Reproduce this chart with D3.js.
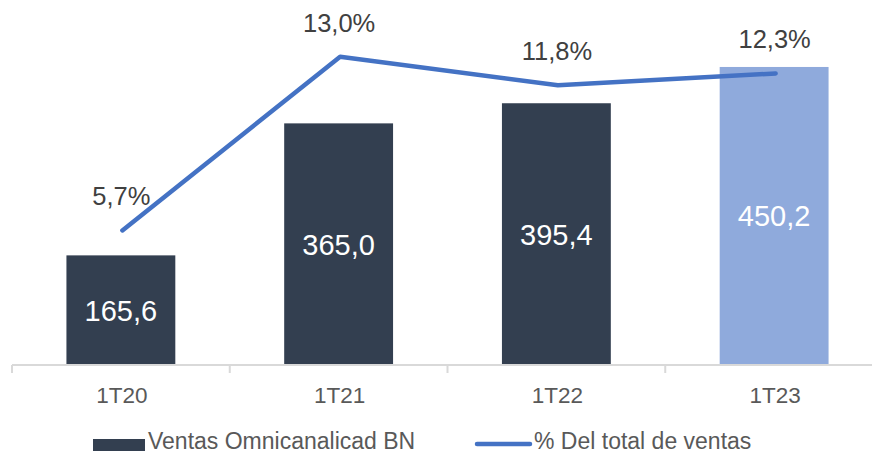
<!DOCTYPE html>
<html>
<head>
<meta charset="utf-8">
<script src="https://cdn.jsdelivr.net/npm/d3@7"></script>
<style>
  html, body { margin: 0; padding: 0; background: #ffffff; }
  svg { display: block; font-family: "Liberation Sans", Arial, sans-serif; }
</style>
</head>
<body>
<svg id="chart" width="872" height="454"></svg>
<script>
const categories = ["1T20", "1T21", "1T22", "1T23"];
const ventas = [165.6, 365.0, 395.4, 450.2];
const ventasLabels = ["165,6", "365,0", "395,4", "450,2"];
const pct = [5.7, 13.0, 11.8, 12.3];
const pctLabels = ["5,7%", "13,0%", "11,8%", "12,3%"];
const barColors = ["#333F50", "#333F50", "#333F50", "#8FAADC"];
const legendLabels = ["Ventas Omnicanalicad BN", "% Del total de ventas"];

const svg = d3.select("#chart");
const W = 872, H = 454;

const x = d3.scaleBand().domain(categories).range([12, 883]).paddingInner(0.5).paddingOuter(0.25);
const yBar = d3.scaleLinear().domain([0, 500]).range([365, 34]);
const yPct = d3.scaleLinear().domain([0, 14]).range([366, 33]);

// bars
svg.append("g").selectAll("rect").data(categories).join("rect")
  .attr("x", d => x(d))
  .attr("width", x.bandwidth())
  .attr("y", (d, i) => yBar(ventas[i]))
  .attr("height", (d, i) => yBar(0) - yBar(ventas[i]))
  .attr("fill", (d, i) => barColors[i]);

// bar labels
svg.append("g").selectAll("text").data(categories).join("text")
  .attr("x", d => x(d) + x.bandwidth() / 2)
  .attr("y", (d, i) => (yBar(ventas[i]) + yBar(0)) / 2 + 10.5)
  .attr("text-anchor", "middle")
  .attr("font-size", "29px")
  .attr("fill", "#ffffff")
  .text((d, i) => ventasLabels[i]);

// axis
const axisG = svg.append("g").attr("transform", "translate(0,365)");
axisG.append("line")
  .attr("x1", x.range()[0]).attr("x2", W)
  .attr("y1", 0).attr("y2", 0)
  .attr("stroke", "#D9D9D9").attr("stroke-width", 2);
const boundaries = d3.range(categories.length + 1).map(i => x.range()[0] + i * x.step());
axisG.selectAll("line.tick").data(boundaries.filter(b => b < W)).join("line")
  .attr("class", "tick")
  .attr("x1", d => d).attr("x2", d => d)
  .attr("y1", 0).attr("y2", 8)
  .attr("stroke", "#D9D9D9").attr("stroke-width", 2);
axisG.selectAll("text").data(categories).join("text")
  .attr("x", d => x(d) + x.bandwidth() / 2 + 1)
  .attr("y", 38)
  .attr("text-anchor", "middle")
  .attr("font-size", "22.5px")
  .attr("fill", "#595959")
  .text(d => d);

// line
const px = (d) => x(d) + x.bandwidth() / 2 + 1.5;
const line = d3.line().x((d, i) => px(categories[i])).y(d => yPct(d));
svg.append("path")
  .datum(pct)
  .attr("d", line)
  .attr("fill", "none")
  .attr("stroke", "#4472C4")
  .attr("stroke-width", 4.5)
  .attr("stroke-linecap", "round")
  .attr("stroke-linejoin", "round");

// pct labels
svg.append("g").selectAll("text").data(categories).join("text")
  .attr("x", d => px(d) - 1)
  .attr("y", (d, i) => yPct(pct[i]) - 25)
  .attr("text-anchor", "middle")
  .attr("font-size", "25.5px")
  .attr("fill", "#404040")
  .text((d, i) => pctLabels[i]);

// legend
const leg = svg.append("g");
leg.append("rect").attr("x", 93).attr("y", 439).attr("width", 52).attr("height", 12).attr("fill", barColors[0]);
leg.append("text").attr("x", 148).attr("y", 449).attr("font-size", "23px").attr("fill", "#595959").text(legendLabels[0]);
leg.append("line").attr("x1", 477).attr("x2", 530).attr("y1", 444).attr("y2", 444)
  .attr("stroke", "#4472C4").attr("stroke-width", 4.5).attr("stroke-linecap", "round");
leg.append("text").attr("x", 534).attr("y", 449).attr("font-size", "23px").attr("fill", "#595959").text(legendLabels[1]);
</script>
</body>
</html>
